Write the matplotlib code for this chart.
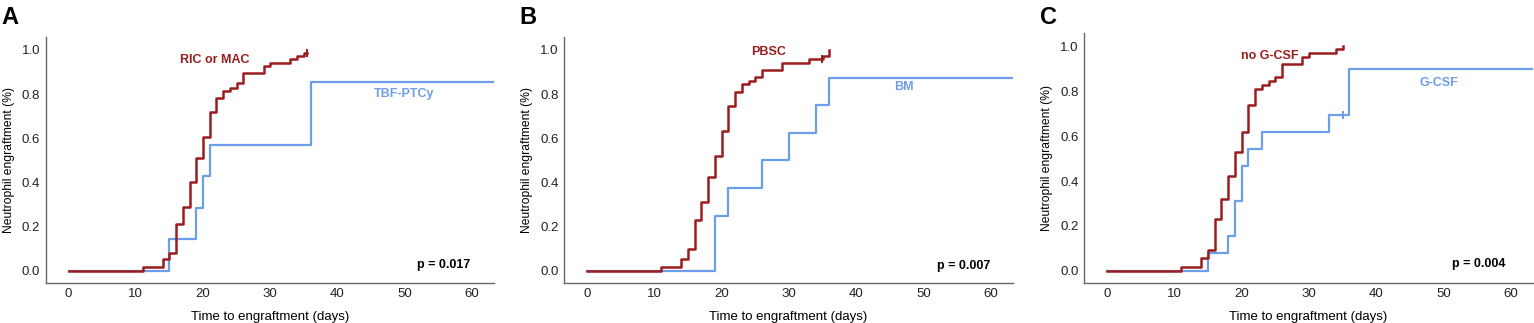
import numpy as np
import matplotlib.pyplot as plt

plt.rcParams['font.family'] = ['Liberation Sans', 'DejaVu Sans']

red = '#9b1c1f'
blue = '#6d9eeb'

# panel A
a_red_t = [0, 11, 14, 15, 16, 17, 18, 19, 20, 21, 22, 23, 24, 25, 26, 29, 30, 33, 34, 35, 35.4]
a_red_y = [0, 0.015, 0.052, 0.082, 0.21, 0.289, 0.40, 0.512, 0.607, 0.72, 0.781, 0.814,
           0.829, 0.849, 0.894, 0.927, 0.942, 0.958, 0.973, 0.985, 0.985]
a_red_cens = [35.4]
a_blue_t = [0, 15, 19, 20, 21, 36, 64]
a_blue_y = [0, 0.143, 0.286, 0.429, 0.571, 0.857, 0.857]
a_blue_cens = []

# panel B
b_red_t = [0, 11, 14, 15, 16, 17, 18, 19, 20, 21, 22, 23, 24, 25, 26, 29, 33, 35, 36]
b_red_y = [0, 0.015, 0.052, 0.10, 0.228, 0.31, 0.425, 0.52, 0.634, 0.746, 0.811, 0.845,
           0.86, 0.878, 0.908, 0.943, 0.958, 0.973, 1.0]
b_red_cens = [34.9]
b_blue_t = [0, 19, 21, 26, 30, 34, 36, 64]
b_blue_y = [0, 0.25, 0.375, 0.5, 0.625, 0.75, 0.875, 0.875]
b_blue_cens = []

# panel C
c_red_t = [0, 11, 14, 15, 16, 17, 18, 19, 20, 21, 22, 23, 24, 25, 26, 29, 30, 34, 35]
c_red_y = [0, 0.018, 0.055, 0.091, 0.23, 0.32, 0.424, 0.528, 0.617, 0.74, 0.81, 0.828,
           0.844, 0.863, 0.92, 0.952, 0.969, 0.987, 1.0]
c_red_cens = []
c_blue_t = [0, 15, 18, 19, 20, 21, 23, 33, 36, 64]
c_blue_y = [0, 0.08, 0.156, 0.31, 0.465, 0.542, 0.619, 0.695, 0.90, 0.90]
c_blue_cens = [35]

panels = [
    ('A', 'RIC or MAC', 'TBF-PTCy', 'p = 0.017',
     a_red_t, a_red_y, a_red_cens, a_blue_t, a_blue_y, a_blue_cens,
     (21.75, 0.955), (49.85, 0.80), (55.8, 0.026)),
    ('B', 'PBSC', 'BM', 'p = 0.007',
     b_red_t, b_red_y, b_red_cens, b_blue_t, b_blue_y, b_blue_cens,
     (26.95, 0.99), (47.1, 0.83), (56.0, 0.023)),
    ('C', 'no G-CSF', 'G-CSF', 'p = 0.004',
     c_red_t, c_red_y, c_red_cens, c_blue_t, c_blue_y, c_blue_cens,
     (24.2, 0.958), (49.35, 0.836), (55.2, 0.029)),
]

W, H = 1534, 323
fig = plt.figure(figsize=(W / 100, H / 100), dpi=100)
lefts = [45.7, 564.3, 1084.3]
tops = [36.7, 36.7, 33.3]

for i, p in enumerate(panels):
    letter, rlab, blab, ptxt, rt, ry, rc, bt, by, bc, rpos, bpos, ppos = p
    left = lefts[i]
    ax = fig.add_axes([left / W, 1 - 282.7 / H, 448.5 / W, (282.7 - tops[i]) / H])
    ax.step(bt, by, where='post', color=blue, lw=1.6)
    ax.step(rt, ry, where='post', color=red, lw=1.8)
    # censored observations
    for c in rc:
        idx = np.searchsorted(rt, c, side='right') - 1
        ax.plot([c], [ry[idx]], marker='|', color=red, ms=6, mew=1.4)
    for c in bc:
        idx = np.searchsorted(bt, c, side='right') - 1
        ax.plot([c], [by[idx]], marker='|', color=blue, ms=6, mew=1.4)
    ax.text(rpos[0], rpos[1], rlab, color=red, fontsize=9, fontweight='bold',
            ha='center', va='center')
    ax.text(bpos[0], bpos[1], blab, color=blue, fontsize=9, fontweight='bold',
            ha='center', va='center')
    ax.text(ppos[0], ppos[1], ptxt, color='black', fontsize=9, fontweight='bold',
            ha='center', va='center')
    ax.set_xlim(-3.4, 63.3)
    if i == 2:
        ax.set_ylim(-0.053, 1.058)
    else:
        ax.set_ylim(-0.054, 1.06)
    ax.set_xticks(range(0, 61, 10))
    ax.set_yticks(np.arange(0, 1.01, 0.2))
    ax.set_yticklabels(['0.0', '0.2', '0.4', '0.6', '0.8', '1.0'])
    ax.tick_params(length=0, labelsize=9.5, pad=4, colors='#222222')
    for s in ['top', 'right']:
        ax.spines[s].set_visible(False)
    for s in ['left', 'bottom']:
        ax.spines[s].set_color('#666666')
        ax.spines[s].set_linewidth(1.0)
    ax.set_xlabel('Time to engraftment (days)', fontsize=9.5, labelpad=8)
    ax.set_ylabel('Neutrophil engraftment (%)', fontsize=8.7, labelpad=5)
    fig.text((left - 45.7 + 1) / W, 1 - 6 / H, letter, fontsize=17, fontweight='bold',
             ha='left', va='top')

fig.savefig('out.png', dpi=100)
